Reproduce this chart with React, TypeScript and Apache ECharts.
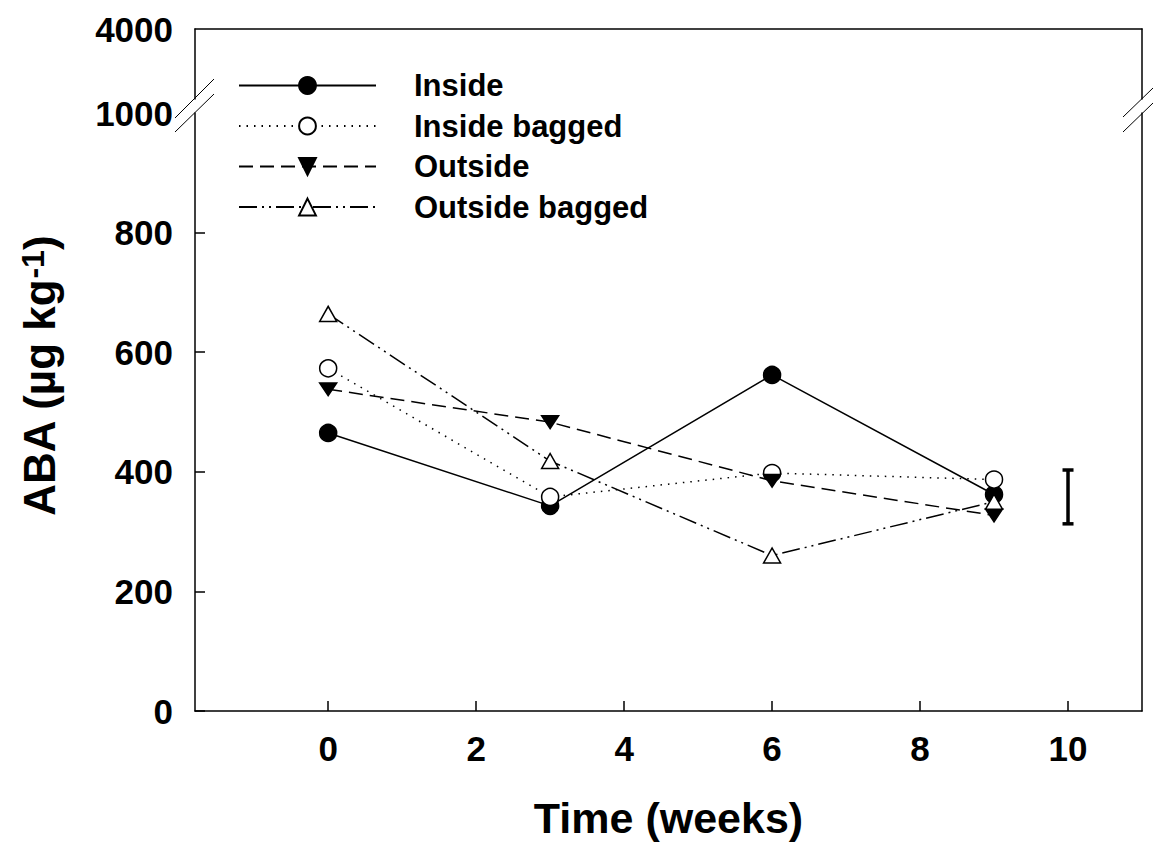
import React, { useEffect, useRef } from 'react';
import * as echarts from 'echarts';

const seriesNames = ['Inside', 'Inside bagged', 'Outside', 'Outside bagged'];
const weeks = [0, 3, 6, 9];
const insideValues = [465, 343, 562, 362];
const insideBaggedValues = [573, 358, 398, 387];
const outsideValues = [538, 483, 385, 327];
const outsideBaggedValues = [664, 418, 260, 350];
const errorBar = [[10, 313, 403]];
const xTickValues = [0, 2, 4, 6, 8, 10];
const yTickValues = [0, 200, 400, 600, 800];
const yLabelValues = [0, 200, 400, 600, 800, 1000];
const yUpperLabelValues = [4000];

const FONT = "'Liberation Sans', Arial, Helvetica, sans-serif";
const DOWN_TRI = 'path://M0,0L20,0L10,17Z';

export default function App() {
  const ref = useRef<HTMLDivElement>(null);
  useEffect(() => {
    if (!ref.current) return;
    const chart = echarts.init(ref.current, undefined, { renderer: 'svg' });
    const axisLine = { show: true, onZero: false, lineStyle: { color: '#000', width: 1.5 } };
    const labelStyle = {
      color: '#000', fontSize: 35, fontWeight: 'bold', fontFamily: FONT,
      formatter: (v: number) => String(v),
    };
    const pairs = (vals: number[]) => weeks.map((w, i) => [w, vals[i]]);
    const lineSeries = (name: string, vals: number[], symbol: string, filled: boolean, dash: any) => ({
      type: 'line',
      name,
      xAxisIndex: 0,
      yAxisIndex: 0,
      data: pairs(vals),
      symbol,
      symbolSize: symbol === 'circle' ? 17 : [17, 15],
      symbolKeepAspect: true,
      itemStyle: { color: filled ? '#000' : '#fff', borderColor: '#000', borderWidth: 1.5 },
      lineStyle: { color: '#000', width: 1.5, type: dash },
      emphasis: { disabled: true },
    });
    const option: any = {
      animation: false,
      backgroundColor: '#fff',
      grid: [
        { left: 195, right: 12, top: 113, bottom: 131 },
        { left: 195, right: 12, top: 29, height: 70 },
      ],
      xAxis: [
        {
          gridIndex: 0, type: 'value', min: -1.8, max: 11, position: 'bottom',
          axisLine,
          axisTick: { show: true, inside: true, length: 10, customValues: xTickValues, lineStyle: { color: '#000', width: 1.5 } },
          axisLabel: { customValues: xTickValues, margin: 20, ...labelStyle },
          splitLine: { show: false },
          name: 'Time (weeks)', nameLocation: 'middle', nameGap: 85,
          nameTextStyle: { color: '#000', fontSize: 43, fontWeight: 'bold', fontFamily: FONT },
        },
        {
          gridIndex: 1, type: 'value', min: -1.8, max: 11, position: 'top',
          axisLine, axisTick: { show: false }, axisLabel: { show: false }, splitLine: { show: false },
        },
      ],
      yAxis: [
        {
          gridIndex: 0, type: 'value', min: 0, max: 1000, position: 'left',
          axisLine,
          axisTick: { show: true, inside: true, length: 10, customValues: yTickValues, lineStyle: { color: '#000', width: 1.5 } },
          axisLabel: { customValues: yLabelValues, margin: 22, ...labelStyle },
          splitLine: { show: false },
        },
        {
          gridIndex: 0, type: 'value', min: 0, max: 1000, position: 'right',
          axisLine, axisTick: { show: false }, axisLabel: { show: false }, splitLine: { show: false },
        },
        {
          gridIndex: 1, type: 'value', min: 1000, max: 4000, position: 'left',
          axisLine, axisTick: { show: false },
          axisLabel: { customValues: yUpperLabelValues, margin: 22, ...labelStyle },
          splitLine: { show: false },
        },
        {
          gridIndex: 1, type: 'value', min: 1000, max: 4000, position: 'right',
          axisLine, axisTick: { show: false }, axisLabel: { show: false }, splitLine: { show: false },
        },
      ],
      legend: {
        data: seriesNames,
        orient: 'vertical',
        left: 233,
        top: 65,
        padding: 5,
        itemWidth: 137,
        itemHeight: 21,
        itemGap: 9.5,
        selectedMode: false,
        textStyle: { color: '#000', fontSize: 31, fontWeight: 'bold', fontFamily: FONT, padding: [0, 0, 0, 33] },
      },
      series: [
        lineSeries(seriesNames[0], insideValues, 'circle', true, 'solid'),
        lineSeries(seriesNames[1], insideBaggedValues, 'circle', false, [1.5, 6]),
        lineSeries(seriesNames[2], outsideValues, DOWN_TRI, true, [14, 7]),
        lineSeries(seriesNames[3], outsideBaggedValues, 'triangle', false, [18, 5, 2, 5, 2, 5]),
        {
          type: 'custom',
          name: 'error',
          xAxisIndex: 0,
          yAxisIndex: 0,
          data: errorBar,
          encode: { x: 0, y: [1, 2] },
          renderItem: (params: any, api: any) => {
            const x = api.value(0);
            const lo = api.coord([x, api.value(1)]);
            const hi = api.coord([x, api.value(2)]);
            const cap = 5.5;
            const st = { stroke: '#000', lineWidth: 3.5 };
            return {
              type: 'group',
              children: [
                { type: 'line', shape: { x1: lo[0], y1: lo[1], x2: hi[0], y2: hi[1] }, style: st },
                { type: 'line', shape: { x1: lo[0] - cap, y1: lo[1], x2: lo[0] + cap, y2: lo[1] }, style: st },
                { type: 'line', shape: { x1: hi[0] - cap, y1: hi[1], x2: hi[0] + cap, y2: hi[1] }, style: st },
              ],
            };
          },
        },
      ],
      graphic: [
        {
          type: 'text', x: 39, y: 376, rotation: Math.PI / 2,
          style: {
            text: '{a|ABA (µg kg}{b|-1}{a|)}',
            align: 'center', verticalAlign: 'middle',
            rich: {
              a: { fontSize: 44, fontWeight: 'bold', fontFamily: FONT, fill: '#000' },
              b: { fontSize: 32, fontWeight: 'bold', fontFamily: FONT, fill: '#000', verticalAlign: 'top' },
            },
          },
        },
        { type: 'line', shape: { x1: 175, y1: 118, x2: 214, y2: 79 }, style: { stroke: '#000', lineWidth: 1 } },
        { type: 'line', shape: { x1: 175, y1: 132, x2: 214, y2: 94 }, style: { stroke: '#000', lineWidth: 1 } },
        { type: 'line', shape: { x1: 1123, y1: 117, x2: 1153, y2: 88 }, style: { stroke: '#000', lineWidth: 1 } },
        { type: 'line', shape: { x1: 1123, y1: 132, x2: 1153, y2: 103 }, style: { stroke: '#000', lineWidth: 1 } },
      ],
    };
    chart.setOption(option);
    return () => chart.dispose();
  }, []);
  return <div ref={ref} style={{ width: 1154, height: 844, position: 'absolute', left: 0, top: 0 }} />;
}
